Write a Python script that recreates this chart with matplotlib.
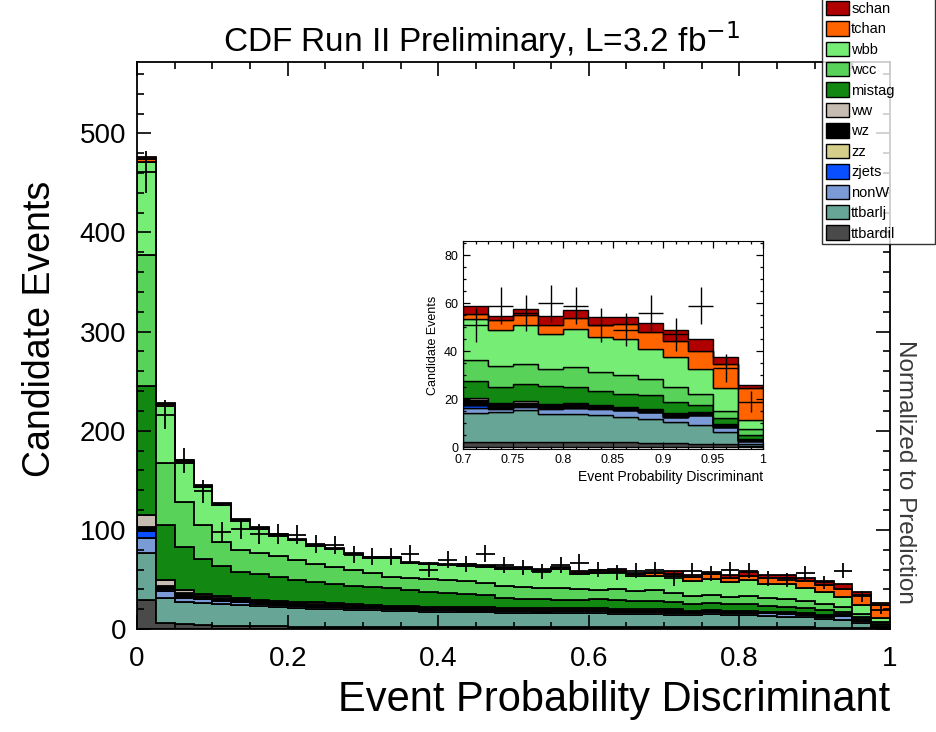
import numpy as np
import matplotlib
matplotlib.use("Agg")
import matplotlib.pyplot as plt
from matplotlib.patches import Patch
from matplotlib.ticker import MultipleLocator

plt.rcParams["font.family"] = ["Liberation Sans", "DejaVu Sans"]

# 40 bins of width 0.025 over the discriminant range
edges = np.linspace(0.0, 1.0, 41)

# stacked predictions, bottom of the stack first
ttbardil = [29, 6, 5, 4, 3.5, 3, 3, 3, 2.5, 2.5, 2.5, 2.5, 2.5, 2.5, 2.3, 2.3, 2.3, 2.3, 2.2, 2.2,
            2.2, 2.2, 2.2, 2.2, 2.1, 2.1, 2.1, 2.1, 2.1, 2.1, 2.1, 2.0, 2.0, 2.0, 2.0, 1.8, 1.5, 1.2, 1.2, 0.6]
ttbarlj = [48, 25, 22, 22, 21.5, 21, 20, 19, 18.5, 18, 17.5, 17, 16.5, 16, 15.7, 15.2, 15.2, 14.7, 14.8, 14.3,
           14.3, 13.8, 13.8, 13.8, 13.9, 13.4, 13.4, 12.9, 12.1, 12.5, 13.2, 12.0, 11.9, 11.2, 10.5, 10.0, 8.9, 8.1, 5.3, 0.8]
nonW = [15, 7, 4.5, 4, 3.5, 3, 2.5, 2.2, 2, 2, 1.8, 1.8, 1.7, 1.7, 1.6, 1.6, 1.6, 1.6, 1.5, 1.6,
        1.6, 1.6, 1.7, 1.7, 1.8, 1.8, 1.8, 1.9, 2.1, 1.5, 1.4, 2.0, 2.4, 2.8, 2.8, 2.8, 2.1, 3.9, 1.8, 1.0]
zjets = [7, 2, 1, 0.5, 0.4, 0.4, 0.3, 0.3, 0.3, 0.3, 0.3, 0.3, 0.3, 0.3, 0.3, 0.3, 0.3, 0.3, 0.3, 0.3,
         0.3, 0.3, 0.3, 0.3, 0.3, 0.3, 0.3, 0.3, 1.1, 0.3, 0.3, 0.2, 0.2, 0.2, 0.1, 0.1, 0.1, 0.1, 0.1, 0.05]
zz = [1.0, 0.6, 0.4, 0.3, 0.3, 0.3, 0.3, 0.3, 0.3, 0.3, 0.3, 0.3, 0.3, 0.3, 0.3, 0.3, 0.3, 0.3, 0.3, 0.3,
      0.3, 0.3, 0.3, 0.3, 0.3, 0.3, 0.3, 0.3, 0.3, 0.2, 0.2, 0.2, 0.2, 0.1, 0.1, 0.1, 0.1, 0.1, 0.1, 0.05]
wz = [3, 3, 3, 2.5, 2.5, 2.5, 2.5, 2.5, 2.5, 2.5, 2.5, 2.5, 2.5, 2.3, 2.3, 2.3, 2.3, 2.2, 2.2, 2.2,
      2.2, 2.2, 2.2, 2.2, 2.2, 2.2, 2.0, 2.0, 1.8, 1.2, 1.3, 1.3, 1.2, 0.9, 1.0, 1.1, 1.2, 1.1, 1.0, 0.8]
ww = [12.5, 6, 3, 2, 1.5, 1, 1, 1.2, 0.8, 1.2, 1.2, 1, 0.6, 0.6, 0.5, 0.5, 0.5, 0.5, 0.5, 0.5,
      0.5, 0.5, 0.5, 0.5, 0.5, 0.5, 0.5, 0.5, 0.8, 0.5, 0.6, 0.3, 0.3, 0.2, 0.3, 0.2, 0.2, 0.2, 0.2, 0.2]
mistag = [129.5, 55.4, 44.1, 35.7, 30.8, 26.8, 25.4, 23.5, 22.1, 20.2, 18.9, 17.6, 17.6, 17.3, 16.0, 14.5, 13.5, 13.1, 12.2, 9.6,
          8.6, 9.1, 8.0, 8.0, 8.9, 8.4, 7.6, 8.0, 7.2, 6.7, 7.3, 7.3, 6.8, 6.2, 5.5, 5.5, 4.7, 2.7, 2.4, 1.6]
wcc = [132, 62, 45, 34, 24, 22, 22, 22, 21, 19, 18, 17, 14, 11, 12, 13, 13, 13, 12, 12,
       12, 11, 12, 11, 9, 11, 10, 11, 8.9, 8.8, 8.4, 7.4, 8.4, 7.7, 7.6, 6.9, 6.2, 4.9, 2.8, 2.3]
wbb = [94, 57.5, 39.3, 37.8, 37, 29.1, 24.1, 20.3, 19.3, 17.3, 17.3, 15.3, 15.2, 19.2, 15.2, 15.2, 15.1, 15.4, 16.9, 17.8,
       18.7, 17.5, 19.3, 15.6, 17.4, 17.3, 15.4, 14.5, 17.1, 14.9, 16.0, 14.6, 16.0, 14.6, 15.3, 12.5, 12.6, 10.4, 9.7, 3.7]
tchan = [3, 2, 1.5, 1.2, 1, 1, 1, 0.8, 0.8, 0.8, 0.8, 0.8, 0.8, 0.8, 0.8, 0.8, 0.9, 1, 1, 1,
         1.1, 1.2, 1.3, 1.4, 1.5, 1.5, 1.8, 2.5, 1.9, 4.2, 4.4, 3.7, 4.4, 5.1, 6.3, 7.0, 6.5, 7.6, 10.2, 13.5]
schan = [2, 1.5, 1.2, 1, 1, 0.9, 0.9, 0.9, 0.9, 0.9, 0.9, 0.9, 1, 1, 1, 1, 1, 1.1, 1.1, 1.2,
         1.2, 1.3, 1.4, 1.5, 1.6, 2.2, 1.8, 2.0, 3.3, 2.0, 2.5, 3.7, 3.6, 3.2, 2.7, 3.9, 4.6, 4.6, 2.8, 1.4]

# observed events per bin
data = [461, 216, 170, 139, 98, 101, 96, 96, 95, 86, 85, 75, 73, 73, 76, 60, 70, 66, 76, 65,
        62, 58, 65, 67, 60, 57, 59, 60, 51, 59, 56, 60, 59, 51, 49, 56, 47, 59, 33, 19]

names = ["ttbardil", "ttbarlj", "nonW", "zjets", "zz", "wz", "ww",
         "mistag", "wcc", "wbb", "tchan", "schan"]
samples = [ttbardil, ttbarlj, nonW, zjets, zz, wz, ww, mistag, wcc, wbb, tchan, schan]
colors = ["#4a4a4a", "#67a597", "#7b9bd6", "#0a4fff", "#d6cf8c", "#000000", "#c6bcb1",
          "#128812", "#58d258", "#76ee76", "#ff6400", "#b00000"]


def draw_stack(ax, lo, hi, lw):
    base = np.zeros(hi - lo)
    for vals, col in zip(samples, colors):
        v = np.asarray(vals[lo:hi], dtype=float)
        ax.stairs(base + v, edges[lo:hi + 1], baseline=base.copy(), fill=True,
                  facecolor=col, edgecolor="black", linewidth=lw)
        base = base + v
    centers = 0.5 * (edges[lo:hi] + edges[lo + 1:hi + 1])
    d = np.asarray(data[lo:hi], dtype=float)
    ax.errorbar(centers, d, xerr=0.0125, yerr=np.sqrt(d), fmt="none",
                ecolor="black", elinewidth=lw, capsize=0, zorder=5)


fig = plt.figure(figsize=(9.36, 7.32), dpi=100)

# main panel
ax = fig.add_axes([0.1464, 0.1407, 0.8045, 0.7746])
draw_stack(ax, 0, 40, 1.3)
ax.set_xlim(0, 1)
ax.set_ylim(0, 572)
ax.xaxis.set_major_locator(MultipleLocator(0.2))
ax.xaxis.set_minor_locator(MultipleLocator(0.05))
ax.yaxis.set_major_locator(MultipleLocator(100))
ax.yaxis.set_minor_locator(MultipleLocator(20))
ax.xaxis.set_major_formatter(plt.FuncFormatter(lambda v, p: f"{v:g}"))
ax.tick_params(which="both", direction="in", top=True, right=True, width=1.2)
ax.tick_params(which="major", length=10, labelsize=20)
ax.tick_params(which="minor", length=5)
ax.tick_params(axis="x", pad=12)
ax.tick_params(axis="y", pad=8)
for s in ax.spines.values():
    s.set_linewidth(1.3)
ax.set_xlabel("Event Probability Discriminant", fontsize=30, loc="right", labelpad=6)
ax.set_ylabel("Candidate Events", fontsize=27)
ax.yaxis.set_label_coords(-0.105, 0.53)
fig.text(0.515, 0.945, "CDF Run II Preliminary, L=3.2 fb$^{-1}$", fontsize=24,
         ha="center", va="center")
fig.text(0.967, 0.355, "Normalized to Prediction", fontsize=17.5, rotation=270,
         ha="center", va="center", color="#3a3a3a")

# inset zoom on the high discriminant region
axi = fig.add_axes([0.4947, 0.3866, 0.3205, 0.2842])
draw_stack(axi, 28, 40, 1.0)
axi.set_xlim(0.7, 1.0)
axi.set_ylim(-0.8, 86)
axi.xaxis.set_major_locator(MultipleLocator(0.05))
axi.xaxis.set_minor_locator(MultipleLocator(0.0125))
axi.yaxis.set_major_locator(MultipleLocator(20))
axi.yaxis.set_minor_locator(MultipleLocator(5))
axi.xaxis.set_major_formatter(plt.FuncFormatter(lambda v, p: f"{v:g}"))
axi.tick_params(which="both", direction="in", top=True, right=True, labelsize=9, width=0.9)
axi.tick_params(which="major", length=5)
axi.tick_params(which="minor", length=2.5)
axi.set_xlabel("Event Probability Discriminant", fontsize=10, loc="right", labelpad=3)
axi.set_ylabel("Candidate Events", fontsize=9, labelpad=4)

# legend box in the top right corner
handles = [Patch(facecolor=c, edgecolor="black", linewidth=1.0) for c in colors[::-1]]
leg = fig.legend(handles, names[::-1], loc="upper left", mode="expand",
                 bbox_to_anchor=(822 / 936, 0.0, 113 / 936, 1.004),
                 fontsize=10.5, frameon=True, fancybox=False, borderpad=0.25,
                 handlelength=1.6, handleheight=1.15, handletextpad=0.15,
                 labelspacing=0.36, borderaxespad=0.0)
leg.get_frame().set_edgecolor("black")
leg.get_frame().set_linewidth(1.0)

fig.savefig("out.png", dpi=100)
